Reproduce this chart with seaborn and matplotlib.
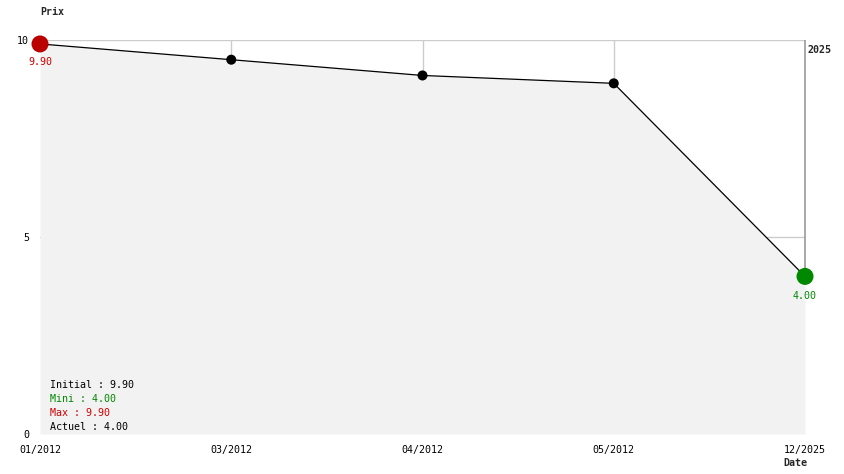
# Price history chart (Prix / Date)

import numpy as np
import pandas as pd
from matplotlib import pyplot as plt
import seaborn as sns

# Data

dates = ['01/2012', '03/2012', '04/2012', '05/2012', '12/2025']
prices = [9.90, 9.50, 9.10, 8.90, 4.00]
y_ticks = [0, 5, 10]
year_label = '2025'

initial = prices[0]
mini = min(prices)
maxi = max(prices)
actuel = prices[-1]

df = pd.DataFrame({'pos': np.arange(len(dates)), 'prix': prices})

sns.set_style('white')
plt.rcParams['font.family'] = ['DejaVu Sans Mono']

red = '#bb0000'
green = '#008800'
fs = 7.2

fig = plt.figure(figsize=(8.44, 4.74), dpi=100)
ax = fig.add_axes([40/844, 40/474, 765/844, 394/474])

# grid (drawn first, fill covers the part under the curve)
for t in y_ticks[1:]:
    ax.axhline(t, color='#cccccc', lw=1, zorder=1)
for i in range(1, len(dates) - 1):
    ax.axvline(i, color='#cccccc', lw=1, zorder=1)
last = len(dates) - 1
ax.vlines(last, prices[-1], y_ticks[-1], color='#999999', lw=1.2, zorder=1, clip_on=False)

ax.fill_between(df['pos'], df['prix'], 0, color='#f2f2f2', lw=0, zorder=2)

sns.lineplot(data=df, x='pos', y='prix', color='black', lw=0.9, ax=ax, zorder=3)
sns.scatterplot(data=df.iloc[1:-1], x='pos', y='prix', color='black', s=52,
                edgecolor='none', ax=ax, zorder=4, clip_on=False)
sns.scatterplot(data=df.iloc[[0]], x='pos', y='prix', color=red, s=150,
                edgecolor='none', ax=ax, zorder=5, clip_on=False)
sns.scatterplot(data=df.iloc[[-1]], x='pos', y='prix', color=green, s=150,
                edgecolor='none', ax=ax, zorder=5, clip_on=False)

ax.annotate(f'{prices[0]:.2f}', (0, prices[0]), xytext=(0, -13), textcoords='offset points',
            ha='center', va='center', color='#cc0000', fontsize=fs)
ax.annotate(f'{prices[-1]:.2f}', (last, prices[-1]), xytext=(0, -14),
            textcoords='offset points', ha='center', va='center', color=green, fontsize=fs)

ax.set_xlim(0, last)
ax.set_ylim(0, 10)
ax.set_xticks(range(len(dates)))
ax.set_xticklabels(dates, fontsize=fs, color='black')
ax.set_yticks(y_ticks)
ax.set_yticklabels([str(t) for t in y_ticks], fontsize=fs, color='black')
ax.tick_params(length=0, pad=8)
ax.tick_params(axis='y', pad=8)
ax.set_xlabel('')
ax.set_ylabel('')
for s in ax.spines.values():
    s.set_visible(False)

fig.text(40/844, 1 - 12/474, 'Prix', fontsize=fs, fontweight='bold', va='center', ha='left')
fig.text(783/844, 1 - 463/474, 'Date', fontsize=fs, fontweight='bold', va='center', ha='left')
fig.text(808/844, 1 - 50/474, year_label, fontsize=fs, fontweight='bold', va='center', ha='left')

lines = [(f'Initial : {initial:.2f}', 'black'), (f'Mini : {mini:.2f}', green),
         (f'Max : {maxi:.2f}', '#cc0000'), (f'Actuel : {actuel:.2f}', 'black')]
for k, (txt, col) in enumerate(lines):
    fig.text(50/844, 1 - (385 + 14*k)/474, txt, fontsize=fs, color=col, va='center', ha='left')

plt.savefig('out.png', dpi=100)
